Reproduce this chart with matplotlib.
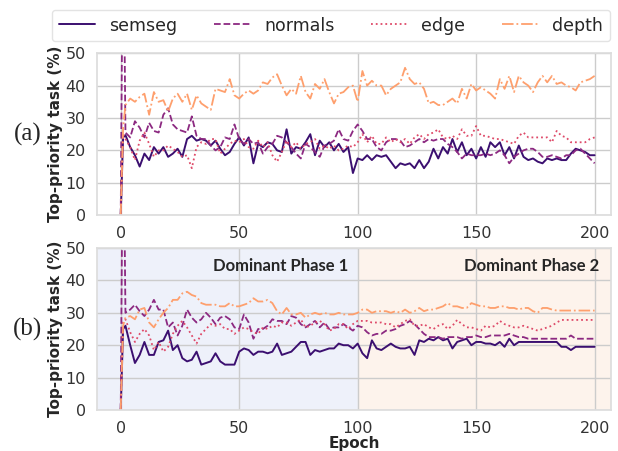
import numpy as np
import matplotlib
matplotlib.use("Agg")
import matplotlib.pyplot as plt
import seaborn as sns

# epochs: 0, 1, then every second epoch up to 200
epochs = np.concatenate([[0, 1], np.arange(2, 201, 2)])

# (a) top-priority share per task (%)
semseg_a = [0, 24,
            24.7, 21, 18.5, 15, 19, 17, 21, 19, 21, 18,
            19, 20.5, 18, 23.5, 24.5, 23, 23.5, 23, 21.5, 23,
            20.5, 18.5, 19.5, 22, 24, 21.5, 24, 16, 22, 21,
            22.5, 22, 20, 19.5, 26.5, 19, 21, 20.5, 22.5, 25,
            18.5, 23, 21, 22.5, 20, 22, 19.5, 21, 13, 17.5,
            17, 18.5, 17, 18.5, 18, 18.5, 16.5, 14.5, 16, 15.5,
            16, 14.5, 17, 14.5, 16.5, 20.5, 17.5, 21, 19, 23.5,
            19.5, 22.5, 18.5, 20.5, 17.5, 21, 18, 22.5, 21, 22.5,
            18.5, 21, 17.5, 21.5, 18, 17, 17.5, 16.5, 16, 17.5,
            17, 17.5, 17, 17, 19, 20.5, 20, 19.5, 18.5, 18.5]
normals_a = [0, 100,
             25.5, 24, 29, 27, 24, 28.5, 26, 25.5, 31, 33,
             28, 26.5, 26, 25.5, 30.5, 24.5, 23.5, 23.5, 21.5, 20,
             21, 24, 23.5, 28, 23.5, 22, 23.5, 22, 22.5, 19,
             21, 22, 24.5, 24, 22.5, 21, 19, 17.5, 22, 21,
             19.5, 18, 21.5, 22, 23, 26.5, 23.5, 23, 26, 28,
             26, 23.5, 23.5, 21, 20, 22.5, 23.5, 23.5, 23, 21,
             21.5, 22.5, 23.5, 22.5, 23.5, 23, 23.5, 23.5, 22, 21,
             19.5, 17.5, 19, 18.5, 18.5, 18.5, 19, 18.5, 19, 20,
             18.5, 16, 18, 19, 20, 20.5, 20.5, 19.5, 18, 18,
             18.5, 18, 17.5, 18.5, 18.5, 20, 20.5, 19, 17.5, 16]
edge_a = [0, 25,
          23.5, 21, 17, 23, 25.5, 22, 18, 20, 20, 21.5,
          20.5, 19.5, 18, 18.5, 14.5, 21, 22.5, 22, 23.5, 23.5,
          19, 20.5, 22, 23, 22.5, 23.5, 21, 20.5, 23, 21,
          22.5, 18.5, 16.5, 19.5, 23, 21, 22.5, 20.5, 22, 22.5,
          23.5, 20.5, 21.5, 20.5, 21.5, 20, 20.5, 21.5, 21, 22.5,
          25, 22.5, 24.5, 22, 22, 24, 22.5, 23.5, 22.5, 23.5,
          22, 24, 25, 23.5, 25, 25.5, 26.5, 24, 23.5, 24.5,
          23.5, 26.5, 24.5, 24.5, 27.5, 24.5, 24.5, 24, 23.5, 23.5,
          23, 22.5, 22, 24.5, 25.5, 24, 24, 24, 24, 24,
          22.5, 26, 24.5, 24, 22.5, 22.5, 22.5, 22.5, 23.5, 24]
depth_a = [0, 27,
           34, 36, 35, 36.5, 37.5, 31, 38, 35, 35.5, 32,
           36, 37.5, 35, 37.5, 32.5, 37, 34.5, 33.5, 32.5, 39,
           38.5, 38, 42, 37, 36, 37.5, 38.5, 37.5, 38.5, 41,
           40.5, 42.5, 43.5, 40, 37, 39, 37.5, 43, 38, 36,
           40.5, 39, 42, 38, 34.5, 37.5, 38, 39.5, 40, 35,
           44.5, 40, 41.5, 40, 40, 37, 39, 40, 41, 45.5,
           42, 40.5, 41, 39, 34.5, 35, 34, 34, 35, 36,
           34.5, 39, 36, 40.5, 38.5, 39.5, 38.5, 37.5, 36, 42,
           39, 43, 38, 43, 41, 40, 38, 41, 43, 41,
           43, 40.5, 41, 40, 39.5, 38.5, 41, 41.5, 42, 43]

# (b) with the two dominant phases
semseg_b = [0, 25,
            26, 20, 14.5, 17, 21, 17, 17, 21, 21.5, 24.5,
            18.5, 20, 16, 15, 15.5, 18, 14, 14.5, 15, 17.5,
            15, 14, 14, 14, 18, 19, 18.5, 17, 18, 18,
            17.5, 18, 20.5, 17, 17.5, 18, 19.5, 21, 21, 17,
            18.5, 18, 18.5, 19, 19, 20.5, 20, 20, 19, 20.5,
            17.5, 16, 21.5, 19, 18.5, 19.5, 20.5, 19.5, 19, 19,
            19.5, 17, 21.5, 21, 22, 21.5, 22.5, 21.5, 22, 19,
            21, 21.5, 22, 20, 21, 21, 20.5, 20.5, 20, 21,
            19.5, 22, 20, 21, 21, 21, 21, 21, 21, 21,
            21, 21, 19.5, 19.5, 18.5, 19.5, 19.5, 19.5, 19.5, 19.5]
normals_b = [0, 100,
             30, 31, 32.5, 30.5, 29, 31, 34, 31, 31, 25.5,
             27, 23, 26, 31, 28.5, 27, 28, 30, 28.5, 26.5,
             28.5, 29, 28, 25.5, 25, 29.5, 27, 22, 25, 25,
             26, 28, 27.5, 27.5, 26.5, 29, 28.5, 26.5, 25.5, 26.5,
             27.5, 25.5, 27, 25, 25.5, 25.5, 26.5, 25.5, 24.5, 26,
             25.5, 24, 23, 23.5, 23.5, 24.5, 24.5, 25, 26, 26.5,
             27.5, 26.5, 25, 23.5, 22.5, 22.5, 22.5, 22, 22.5, 22.5,
             22.5, 22, 22.5, 22.5, 23, 22.5, 22.5, 23, 23, 23,
             23, 23.5, 23, 22.5, 22.5, 22, 22, 22, 22, 22,
             22, 22, 22, 22, 23, 22, 22, 22, 22, 22]
edge_b = [0, 27,
          28, 24, 21, 23.5, 25, 23, 18.5, 21, 18, 19.5,
          23.5, 26, 27.5, 25.5, 23, 20.5, 23.5, 25, 26.5, 26,
          26.5, 25, 25, 23.5, 24.5, 25.5, 25, 24, 23.5, 25.5,
          25, 26, 25.5, 27, 27, 26, 27, 28, 25.5, 26,
          27, 27.5, 26.5, 24.5, 25, 26.5, 26.5, 25, 26.5, 27.5,
          27.5, 27.5, 27, 27, 27, 26.5, 26.5, 25.5, 26.5, 27.5,
          28, 26, 26, 26.5, 25.5, 25, 26, 26.5, 25, 26,
          27.8, 26.5, 25.5, 25.5, 25, 24.5, 26, 25.5, 26, 27.5,
          26.5, 26, 25.5, 25.5, 26, 25.5, 25, 24.5, 25, 25.5,
          26, 27, 27.8, 27.8, 27.8, 27.8, 27.8, 27.8, 27.8, 27.8]
depth_b = [0, 26,
           28.5, 29, 28, 31, 31.5, 27, 25.5, 28, 30, 31.5,
           34, 34, 36, 36.5, 35.5, 35, 33, 32.5, 32.5, 32.5,
           32, 32, 33, 32, 32, 32.5, 33, 34.5, 33.5, 33.5,
           34, 33, 30.5, 29.5, 31.5, 29.5, 29.5, 30, 28.5, 29.5,
           30, 29.5, 30, 29.5, 29.5, 30, 29.5, 29.5, 29.5, 30,
           31, 31, 30, 30.5, 30.5, 30.5, 30, 30.5, 30, 31,
           30, 30.5, 31.5, 30.5, 31, 31, 31.5, 32, 33, 32,
           32, 31.5, 31.5, 33, 32.5, 32, 32, 31.5, 31.5, 32,
           32, 31.5, 31.5, 31, 31.5, 31.5, 30.5, 30, 31.5, 31.5,
           31, 30.7, 30.7, 30.7, 30.7, 30.7, 30.7, 30.7, 30.7, 30.7]

tasks = ["semseg", "normals", "edge", "depth"]
styles = ["-", "--", ":", "-."]
widths = [1.4, 1.3, 1.3, 1.3]
phase_split = 100

sns.set_theme(style="whitegrid")
plt.rcParams["font.family"] = ["DejaVu Sans"]
colors = sns.color_palette("magma", 4)

fig = plt.figure(figsize=(6.18, 4.51), dpi=100)
ax_a = fig.add_axes([0.157, 0.523, 0.832, 0.359])
ax_b = fig.add_axes([0.157, 0.091, 0.832, 0.359])

panels = [
    (ax_a, [semseg_a, normals_a, edge_a, depth_a], "(a)"),
    (ax_b, [semseg_b, normals_b, edge_b, depth_b], "(b)"),
]

for ax, series, tag in panels:
    for name, vals, ls, lw, c in zip(tasks, series, styles, widths, colors):
        ax.plot(epochs, vals, ls=ls, lw=lw, color=c, label=name)
    ax.set_xlim(-10, 207)
    ax.set_ylim(0, 50)
    ax.set_xticks([0, 50, 100, 150, 200])
    ax.set_yticks([0, 10, 20, 30, 40, 50])
    ax.tick_params(labelsize=11.5, pad=2, colors="#333333")
    ax.set_ylabel("Top-priority task (%)", fontsize=11, fontweight="bold", labelpad=2)
    for sp in ax.spines.values():
        sp.set_color("#dddddd")
    # panel tag in the left margin
    bb = ax.get_position()
    fig.text(0.045, bb.y0 + bb.height / 2, tag, fontsize=18,
             family="Liberation Serif", ha="center", va="center")

# phase backgrounds
ax_b.axvspan(-10, phase_split, color="#eef1fa", zorder=0)
ax_b.axvspan(phase_split, 207, color="#fdf3ec", zorder=0)
ax_b.text(96, 44.5, "Dominant Phase 1", fontsize=12, fontweight="bold",
          family="Lato", ha="right", va="center")
ax_b.text(202, 44.5, "Dominant Phase 2", fontsize=12, fontweight="bold",
          family="Lato", ha="right", va="center")
ax_b.set_xlabel("Epoch", fontsize=11, fontweight="bold", labelpad=0)

handles, labels = ax_a.get_legend_handles_labels()
fig.legend(handles, labels, loc="upper center", bbox_to_anchor=(0.5356, 0.998),
           ncol=4, fontsize=12.5, frameon=True, handlelength=2.1,
           columnspacing=2.1, borderpad=0.4, edgecolor="#dddddd")

fig.savefig("out.png", dpi=100)
